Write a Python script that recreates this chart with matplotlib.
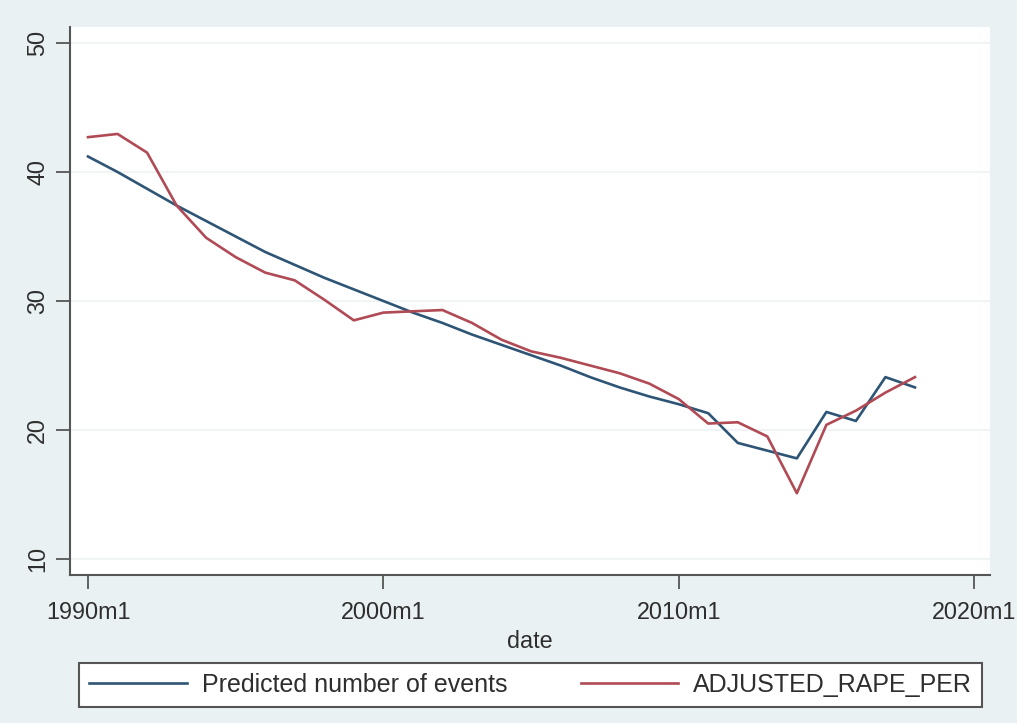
import numpy as np
import matplotlib.pyplot as plt

plt.rcParams['font.family'] = ['Liberation Sans', 'DejaVu Sans']

# annual observations, 1990-2018
years = np.arange(1990, 2019)
predicted = [41.2, 40.0, 38.7, 37.4, 36.2, 35.0, 33.8, 32.8, 31.8, 30.9,
             30.0, 29.1, 28.3, 27.4, 26.6, 25.8, 25.0, 24.1, 23.3, 22.6,
             22.0, 21.3, 19.0, 18.4, 17.8, 21.4, 20.7, 24.1, 23.3]
adjusted = [42.7, 42.95, 41.5, 37.4, 34.9, 33.4, 32.2, 31.6, 30.1, 28.5,
            29.1, 29.2, 29.3, 28.3, 27.0, 26.1, 25.6, 25.0, 24.4, 23.6,
            22.4, 20.5, 20.6, 19.5, 15.1, 20.4, 21.5, 22.9, 24.1]
series_names = ['Predicted number of events', 'ADJUSTED_RAPE_PER']
y_ticks = [10, 20, 30, 40, 50]
x_ticks = [1990, 2000, 2010, 2020]
x_labels = ['1990m1', '2000m1', '2010m1', '2020m1']

bg = '#eaf1f3'
txt = '#2e2e2e'
axcol = '#555555'
fs = 16.8

fig = plt.figure(figsize=(10.17, 7.23), dpi=100, facecolor=bg)
ax = fig.add_axes([70/1017, 1-575/723, 920/1017, 548/723])
ax.set_facecolor('white')

ax.plot(years, predicted, color='#2e5575', lw=1.9, label=series_names[0])
ax.plot(years, adjusted, color='#b04a55', lw=1.9, label=series_names[1])

ax.set_xlim(1989.39, 2020.54)
ax.set_ylim(8.76, 51.24)
ax.set_yticks(y_ticks)
ax.set_xticks(x_ticks)
ax.set_xticklabels(x_labels)
for t in ax.get_yticklabels():
    t.set_rotation(90)
    t.set_va('center')

ax.grid(axis='y', color='#f0f4f5', lw=1.5)
ax.set_axisbelow(True)

for s in ['top', 'right']:
    ax.spines[s].set_visible(False)
for s in ['left', 'bottom']:
    ax.spines[s].set_color(axcol)
    ax.spines[s].set_linewidth(1.5)

ax.tick_params(axis='both', colors=axcol, labelcolor=txt, labelsize=fs,
               length=10, width=1.3)
ax.tick_params(axis='y', pad=5)
ax.tick_params(axis='x', pad=9)
ax.set_xlabel('date', fontsize=fs, color=txt, labelpad=4)

leg = fig.legend(loc='lower left', ncol=2, mode='expand',
                 bbox_to_anchor=(79/1017, 1-707/723, 903/1017, 47/723),
                 borderaxespad=0, fontsize=18, handlelength=3.9,
                 handletextpad=0.6, fancybox=False, framealpha=1,
                 edgecolor=axcol, borderpad=0.4)
leg.get_frame().set_linewidth(1.5)
for t in leg.get_texts():
    t.set_color(txt)

fig.savefig('out.png', dpi=100, facecolor=bg)
